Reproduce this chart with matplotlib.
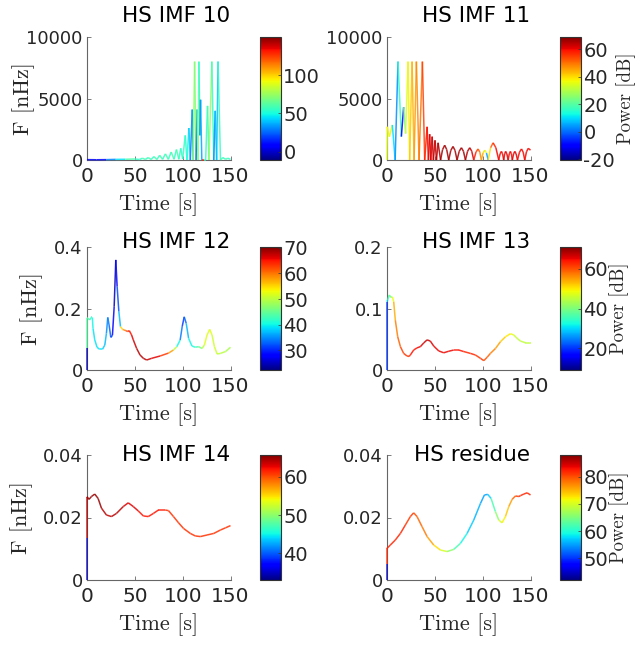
import numpy as np
import matplotlib.pyplot as plt
from matplotlib.collections import LineCollection
from matplotlib.colors import Normalize
from matplotlib.ticker import FuncFormatter

plt.rcParams['font.family'] = 'DejaVu Sans'
TXT = '#262626'

# ---- data: time [s], frequency [nHz], power [dB]
t10 = [0, 10, 20, 30, 40, 50,
       55, 58, 61, 64, 67, 70, 73, 76, 79, 82, 85, 88, 91,
       93.5, 96, 98, 100,
       102.7, 104.5, 106.5, 108, 110, 111,
       112.5, 114, 115, 116, 117, 118, 118.7, 120,
       122, 124, 126, 127.5, 130.5, 132.5, 134, 135.5, 137, 139.5,
       142, 145, 147, 150]
f10 = [30, 20, 30, 50, 60, 80,
       40, 150, 40, 200, 40, 280, 40, 380, 50, 500, 50, 650, 60,
       850, 60, 950, 80,
       2000, 0, 2600, 0, 4100, 0,
       8000, 0, 4100, 0, 8000, 2000, 4900, 0,
       0, 0, 4400, 0, 8000, 0, 4000, 0, 8000, 0,
       200, 50, 150, 50]
p10 = [5, 5, 10, 30, 45, 60,
       55, 55, 60, 55, 60, 55, 60, 55, 60, 55, 60, 55, 60,
       55, 60, 55, 55,
       55, 55, 50, 40, 30, 35,
       75, 70, 25, 60, 75, 50, 30, 35,
       130, 55, 55, 60, 75, 55, 30, 40, 40, 55,
       60, 55, 60, 55]

t11 = [0, 0.3, 2.5, 5.6, 8.5, 11.5, 15.0, 17.4, 19.5,
       22.0, 23.7, 26.2, 28.3, 30.7, 33.5, 37.0, 39.4,
       41.9, 43.3, 44.6, 45.8, 47.2, 48.5, 50.2, 51.7, 53.4, 56.0,
       58.1, 60.3, 62.4, 64.5, 66.7, 69.0, 71.1, 73.2,
       75.5, 77.8, 79.9, 82.0, 84.2, 86.5, 88.6, 90.7,
       93.0, 95.2, 97.0, 98.7, 100.4, 102.2, 104.0, 105.7,
       108.3, 110.9, 113.8, 116.8,
       118.2, 119.6, 120.8, 122.0, 123.0, 124.0, 125.3, 126.6,
       127.8, 129.0, 130.0, 131.0, 132.3, 133.6, 135.0, 136.4,
       138.5, 140.6, 142.3, 144.0, 145.8, 147.7, 150.0]
f11 = [0, 2700, 1900, 2850, 0, 8000, 1900, 4300, 2150,
       8000, 0, 8000, 0, 8000, 0, 8000, 0,
       2700, 0, 2100, 0, 1900, 0, 1600, 0, 1400, 0,
       850, 1200, 850, 0, 780, 1100, 780, 0,
       710, 1000, 710, 0, 710, 1000, 710, 0,
       640, 900, 640, 0, 570, 800, 570, 0,
       1000, 1400, 1000, 0,
       500, 700, 500, 0, 500, 700, 500, 0,
       500, 700, 500, 0, 500, 700, 500, 0,
       640, 900, 640, 0, 670, 950, 800]
p11 = [35, 35, 38, 35, 10, 3, 15, -10, 22,
       35, 38, 42, 44, 46, 48, 50, 55,
       58, 60, 60, 62, 62, 63, 63, 64, 64, 65,
       66, 66, 66, 66, 66, 66, 66, 66,
       66, 66, 66, 66, 65, 65, 64, 62,
       58, 55, 52, 48, 45, 40, 35, 5,
       40, 52, 58, 60,
       60, 60, 60, 60, 61, 61, 61, 61,
       60, 60, 60, 60, 61, 61, 61, 61,
       60, 60, 60, 60, 60, 60, 60]

t12 = [0, 0, 0, 1.05, 2.8, 4.6, 5.6, 6.3, 8.1, 10.5, 13.3, 16.1, 18.6, 20.3,
       21.7, 23.1, 24.9, 26.6, 28.4, 30.1, 31.5, 33.3, 35.0, 37.2, 38.9, 40.7,
       42.4, 44.2, 46.6, 48.4, 51.9, 55.4, 58.9, 62.4, 67.6, 76.4, 85.2, 90.4,
       93.9, 97.4, 99.5, 101.6, 103.7, 106.2, 109.7, 113.2, 116.7, 120.2, 122.7,
       125.5, 128.3, 130.7, 133.2, 136, 139.5, 144.8, 150]
f12 = [0, 0.07, 0.168, 0.168, 0.163, 0.171, 0.171, 0.135, 0.098, 0.074, 0.067,
       0.067, 0.081, 0.119, 0.171, 0.146, 0.106, 0.113, 0.206, 0.358, 0.271,
       0.19, 0.141, 0.132, 0.130, 0.128, 0.125, 0.128, 0.114, 0.098, 0.07,
       0.049, 0.038, 0.0325, 0.038, 0.0455, 0.055, 0.065, 0.076, 0.0976,
       0.141, 0.173, 0.152, 0.103, 0.078, 0.074, 0.076, 0.07, 0.081, 0.114,
       0.132, 0.114, 0.076, 0.052, 0.054, 0.06, 0.074]
p12 = [23, 25, 44, 44, 44, 42, 42, 40, 39, 39, 39, 39, 38, 37, 35, 34, 33, 31,
       28, 25, 28, 32, 37, 55, 58, 60, 62, 64, 65, 66, 67, 68, 68, 68, 67, 66,
       63, 58, 50, 40, 34, 31, 33, 37, 40, 41, 43, 46, 50, 52, 52, 52, 51, 51,
       50, 50, 49]

t13 = [0, 0, 0.7, 2.4, 4.2, 5.6, 7, 8.7, 11.2, 14, 17.4, 20.9, 23, 24.4, 27.9,
       31.4, 34.9, 38.4, 41.9, 45.3, 48.8, 54.1, 59.3, 64.5, 69.8, 75, 80.2,
       87.2, 92.4, 97.7, 101.2, 104.6, 108.1, 113.4, 118.6, 123.8, 129, 132.5,
       136, 139.5, 144.7, 150]
f13 = [0, 0.111, 0.114, 0.122, 0.118, 0.119, 0.111, 0.081, 0.054, 0.038, 0.027,
       0.0228, 0.022, 0.0244, 0.0325, 0.036, 0.038, 0.044, 0.049, 0.047, 0.039,
       0.031, 0.028, 0.0305, 0.0325, 0.0325, 0.03, 0.027, 0.0244, 0.019, 0.0152,
       0.0206, 0.027, 0.035, 0.046, 0.054, 0.059, 0.057, 0.0515, 0.047, 0.0444,
       0.0444]
p13 = [12, 20, 30, 35, 40, 42, 48, 54, 57, 59, 61, 62, 62, 63, 64, 64, 65, 66,
       67, 67, 66, 65, 65, 65, 65, 64, 64, 63, 63, 62, 62, 60, 59, 57, 55, 52,
       50, 48, 46, 45, 45, 45]

t14 = [0, 0, 0, 2.1, 4.6, 8.1, 11.6, 15.1, 20.3, 25.6, 30.8, 37.9, 43.1, 48.4,
       53.6, 58.9, 64.1, 69.4, 74.7, 81.7, 85.2, 90.4, 95.7, 100.9, 108, 113.2,
       118.5, 125.5, 132.5, 139.5, 144.8, 150]
f14 = [0, 0.0133, 0.0267, 0.0258, 0.0267, 0.0275, 0.0261, 0.023, 0.0208, 0.0203,
       0.0213, 0.0235, 0.0247, 0.0235, 0.0221, 0.0205, 0.0203, 0.0213, 0.0224,
       0.0224, 0.0222, 0.0203, 0.0183, 0.0165, 0.0149, 0.0141, 0.0139, 0.0144,
       0.0149, 0.016, 0.0167, 0.0174]
p14 = [34, 35, 64, 65, 65, 65, 65, 65, 64, 64, 64, 64, 63, 63, 63, 62, 62, 62,
       62, 62, 61, 61, 61, 61, 61, 61, 61, 61, 61, 61, 61, 61]

t_res = [0, 0, 0, 3.5, 8.7, 14, 19.2, 24.4, 27.9, 31.4, 36.6, 41.9, 48.8, 55.8,
         62.8, 69.8, 76.7, 83.7, 90.7, 97.7, 101.8, 105.3, 108.8, 113.3, 116.8,
         120.3, 123.8, 127.3, 130.8, 134.3, 137.8, 139.5, 143, 146.5, 150]
f_res = [0, 0.005, 0.0101, 0.0112, 0.0128, 0.0149, 0.0176, 0.0203, 0.0215,
         0.0203, 0.0171, 0.0139, 0.0112, 0.0096, 0.0091, 0.0098, 0.0117, 0.0149,
         0.0192, 0.0245, 0.0272, 0.0274, 0.0261, 0.0219, 0.0192, 0.0183, 0.0203,
         0.0235, 0.0258, 0.0269, 0.0267, 0.027, 0.0275, 0.0279, 0.0272]
p_res = [43, 45, 82, 82, 82, 82, 82, 81, 81, 80, 79, 78, 76, 73, 70, 66, 62, 59,
         57, 56, 55, 55, 57, 62, 66, 70, 72, 74, 76, 79, 81, 82, 82, 82, 82]

titles = ['HS IMF 10', 'HS IMF 11', 'HS IMF 12', 'HS IMF 13', 'HS IMF 14', 'HS residue']
series = [(t10, f10, p10), (t11, f11, p11), (t12, f12, p12),
          (t13, f13, p13), (t14, f14, p14), (t_res, f_res, p_res)]
f_max = [10000, 10000, 0.4, 0.2, 0.04, 0.04]
f_ticks = [[0, 5000, 10000], [0, 5000, 10000], [0, 0.2, 0.4],
           [0, 0.1, 0.2], [0, 0.02, 0.04], [0, 0.02, 0.04]]
p_lim = [(-11, 150), (-20.5, 69), (22.3, 70.3), (9, 71), (33, 65.7), (42, 88)]
p_ticks = [[0, 50, 100], [-20, 0, 20, 40, 60], [30, 40, 50, 60, 70],
           [20, 40, 60], [40, 50, 60], [50, 60, 70, 80]]

fig = plt.figure(figsize=(6.35, 6.46), dpi=100)
W, H = 635, 646
col_x = [87, 387]          # axes left edges (px)
col_cb = [259.5, 559.5]    # colorbar left edges (px)
rows = [(37, 160), (247, 370), (455, 580)]   # top / bottom (px)
title_y = [1.17, 1.04, 1.0]
ylab_x = [-0.36, -0.31, -0.375]

fmt = FuncFormatter(lambda v, _: f'{v:g}')

for i, (t, f, p) in enumerate(series):
    r, c = divmod(i, 2)
    top, bot = rows[r]
    ax = fig.add_axes([col_x[c] / W, (H - bot) / H, 143.5 / W, (bot - top) / H])
    cax = fig.add_axes([col_cb[c] / W, (H - bot) / H, 21 / W, (bot - top) / H])

    # each segment takes the power of the point it runs to
    pts = np.column_stack([t, f])
    segs = np.stack([pts[:-1], pts[1:]], axis=1)
    lc = LineCollection(segs, cmap='jet', norm=Normalize(*p_lim[i]), linewidths=1.1,
                        alpha=0.85, zorder=3, clip_on=False)
    lc.set_array(np.asarray(p[1:], dtype=float))
    ax.add_collection(lc)

    ax.set_xlim(0, 150)
    ax.set_ylim(0, f_max[i])
    ax.set_xticks([0, 50, 100, 150])
    ax.set_yticks(f_ticks[i])
    ax.yaxis.set_major_formatter(fmt)
    for s in ['top', 'right']:
        ax.spines[s].set_visible(False)
    for s in ['left', 'bottom']:
        ax.spines[s].set_color('#666666')
        ax.spines[s].set_linewidth(0.8)
    ax.tick_params(axis='both', direction='in', length=3, width=0.6, color='#666666',
                   labelcolor=TXT)
    ax.tick_params(axis='y', labelsize=13, pad=3)
    ax.tick_params(axis='x', labelsize=14.5, pad=5)
    ax.set_xlabel('Time [s]', family='cmr10', fontsize=16, color=TXT, labelpad=5.5)
    if c == 0:
        ax.set_ylabel('F [nHz]', family='cmr10', fontsize=16, color=TXT)
        ax.yaxis.set_label_coords(ylab_x[r], 0.5)
    ax.text(1.0, title_y[r], titles[i], transform=ax.transAxes, ha='right',
            va='center', fontsize=15.5, color='black')

    cb = fig.colorbar(lc, cax=cax, ticks=p_ticks[i])
    cb.solids.set_alpha(1)
    cb.outline.set_edgecolor('#333333')
    cb.outline.set_linewidth(0.8)
    cb.ax.yaxis.set_major_formatter(fmt)
    cb.ax.tick_params(labelsize=14, direction='in', length=2.5, width=0.5,
                      color='#333333', labelcolor=TXT, pad=2)
    if c == 1:
        cb.set_label('Power [dB]', family='cmr10', fontsize=13.5, color=TXT, labelpad=1)

fig.savefig('out.png', dpi=100)
